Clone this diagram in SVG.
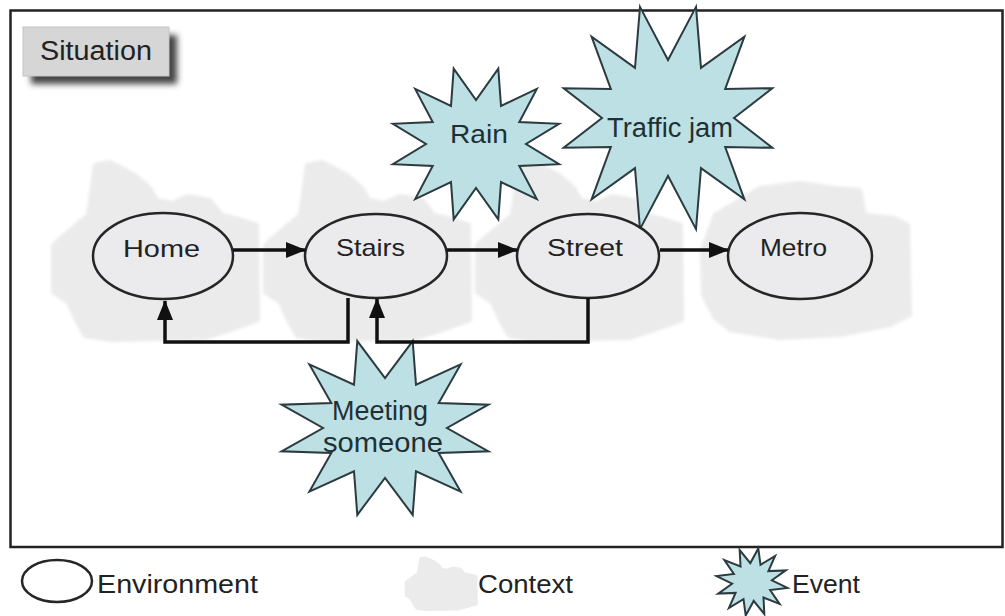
<svg xmlns="http://www.w3.org/2000/svg" width="1005" height="616" viewBox="0 0 1005 616">
<style>
.env{fill:#ebebed;stroke:#262626;stroke-width:2.5}
.ctx{fill:#ebebeb;stroke:#ebebeb;stroke-width:4;stroke-linejoin:round}
.evt{fill:#bde0e4;stroke:#2b3b3f;stroke-width:2;stroke-linejoin:miter}
.conn{fill:none;stroke:#111;stroke-width:3.5}
.t{font-family:"Liberation Sans",Arial,sans-serif;fill:#222}
.te{font-family:"Liberation Sans",Arial,sans-serif;fill:#1f3034}
</style>
<defs>
<filter id="blur" x="-10%" y="-10%" width="120%" height="120%"><feGaussianBlur stdDeviation="1.5"/></filter>
<filter id="shadow" x="-20%" y="-30%" width="140%" height="160%"><feGaussianBlur stdDeviation="3"/></filter>
<polygon id="blob" points="1,83 18,68 36,53 43,3 58,0 83,13 98,26 105,38 120,41 136,34 158,38 170,53 190,58 205,63 206,158 178,168 153,176 58,178 33,174 25,160 16,140 1,130"/>
<marker id="ah" markerUnits="userSpaceOnUse" markerWidth="20" markerHeight="16" refX="19" refY="8" orient="auto"><path d="M0,0 L20,8 L0,16 z" fill="#111"/></marker>
</defs>
<rect x="0" y="0" width="1005" height="616" fill="#ffffff"/>
<rect id="frame" x="10.5" y="10.5" width="992" height="536.5" fill="#ffffff" stroke="#222" stroke-width="2.5"/>

<g id="situation">
<rect x="31" y="35" width="146" height="49" fill="#444" filter="url(#shadow)"/>
<rect x="23" y="27" width="146" height="49" fill="#d6d6d6" stroke="#c4c4c4" stroke-width="1"/>
<text class="t" x="40" y="60" font-size="27" textLength="112" lengthAdjust="spacingAndGlyphs">Situation</text>
</g>

<g id="contexts" filter="url(#blur)">
<use href="#blob" class="ctx" transform="translate(52,162)"/>
<use href="#blob" class="ctx" transform="translate(264,162)"/>
<use href="#blob" class="ctx" transform="translate(476,162)"/>
<polygon class="ctx" points="702,250 715,215 740,200 760,188 800,183 835,188 860,190 865,215 895,218 908,225 910,315 890,325 840,335 780,338 730,330 715,318 703,295"/>
</g>

<g id="rain">
<polygon class="evt" points="498.3,68.7 501,105.9 536.8,88.9 519.3,122 559.1,123.8 526,144 559.1,164.2 519.3,166 536.8,199.1 501,182.1 498.3,219.3 476,188 453.7,219.3 451,182.1 415.2,199.1 432.7,166 392.9,164.2 426,144 392.9,123.8 432.7,122 415.2,88.9 451,105.9 453.7,68.7 476,100"/>
<text class="te" x="450" y="143" font-size="26" textLength="58" lengthAdjust="spacingAndGlyphs">Rain</text>
</g>

<g id="traffic-jam">
<polygon class="evt" points="696,6.9 701,67.8 744.4,36.7 725.2,89 772.3,88.2 734,118 772.3,147.8 725.2,147 744.4,199.3 701,168.2 696,229.1 668,176 640,229.1 635,168.2 591.6,199.3 610.8,147 563.7,147.8 602,118 563.7,88.2 610.8,89 591.6,36.7 635,67.8 640,6.9 668,60"/>
<text class="te" x="607" y="137" font-size="27" textLength="126" lengthAdjust="spacingAndGlyphs">Traffic jam</text>
</g>

<g id="meeting-someone">
<polygon class="evt" points="412.7,341.1 416,384.7 460.6,364.4 438.7,403 488.4,404.7 447,428 488.4,451.3 438.7,453 460.6,491.6 416,471.3 412.7,514.9 385,478 357.3,514.9 354,471.3 309.4,491.6 331.3,453 281.6,451.3 323,428 281.6,404.7 331.3,403 309.4,364.4 354,384.7 357.3,341.1 385,378"/>
<text class="te" x="332" y="420" font-size="27" textLength="96" lengthAdjust="spacingAndGlyphs">Meeting</text>
<text class="te" x="323" y="452" font-size="27" textLength="120" lengthAdjust="spacingAndGlyphs">someone</text>
</g>

<g id="home">
<ellipse class="env" cx="163" cy="256" rx="70" ry="43"/>
<text class="t" x="123" y="257" font-size="24" textLength="77" lengthAdjust="spacingAndGlyphs">Home</text>
</g>
<g id="stairs">
<ellipse class="env" cx="376" cy="256" rx="71" ry="42"/>
<text class="t" x="336" y="256" font-size="24" textLength="69" lengthAdjust="spacingAndGlyphs">Stairs</text>
</g>
<g id="street">
<ellipse class="env" cx="588" cy="256" rx="71" ry="42"/>
<text class="t" x="547" y="256" font-size="24" textLength="76" lengthAdjust="spacingAndGlyphs">Street</text>
</g>
<g id="metro">
<ellipse class="env" cx="800" cy="256" rx="72" ry="43"/>
<text class="t" x="760" y="256" font-size="24" textLength="67" lengthAdjust="spacingAndGlyphs">Metro</text>
</g>

<g id="connectors">
<path class="conn" d="M233,250 H305" marker-end="url(#ah)"/>
<path class="conn" d="M447,250 H517" marker-end="url(#ah)"/>
<path class="conn" d="M660,250 H728" marker-end="url(#ah)"/>
<path class="conn" d="M348,298 V342 H165 V301" marker-end="url(#ah)"/>
<path class="conn" d="M588,298 V342 H377 V299" marker-end="url(#ah)"/>
</g>

<g id="legend">
<ellipse class="env" style="fill:#ffffff" cx="57" cy="581" rx="35" ry="21"/>
<text class="t" x="97" y="593" font-size="25" textLength="161" lengthAdjust="spacingAndGlyphs">Environment</text>
<use href="#blob" class="ctx" filter="url(#blur)" transform="translate(405,557) scale(0.35,0.3)"/>
<text class="t" x="478" y="593" font-size="25" textLength="95" lengthAdjust="spacingAndGlyphs">Context</text>
<polygon class="evt" points="758.3,548.5 760.5,564.8 775.1,556 768.4,571.1 785.8,570.4 771.9,580.3 787.5,587.9 770.1,590 779.6,603.9 763.5,597.6 764.3,614 753.7,600.9 745.7,615.5 743.5,599.2 728.9,608 735.6,592.9 718.2,593.6 732.1,583.7 716.5,576.1 733.9,574 724.4,560.1 740.5,566.4 739.7,550 750.3,563.1"/>
<text class="t" x="792" y="593" font-size="25" textLength="68" lengthAdjust="spacingAndGlyphs">Event</text>
</g>
</svg>
